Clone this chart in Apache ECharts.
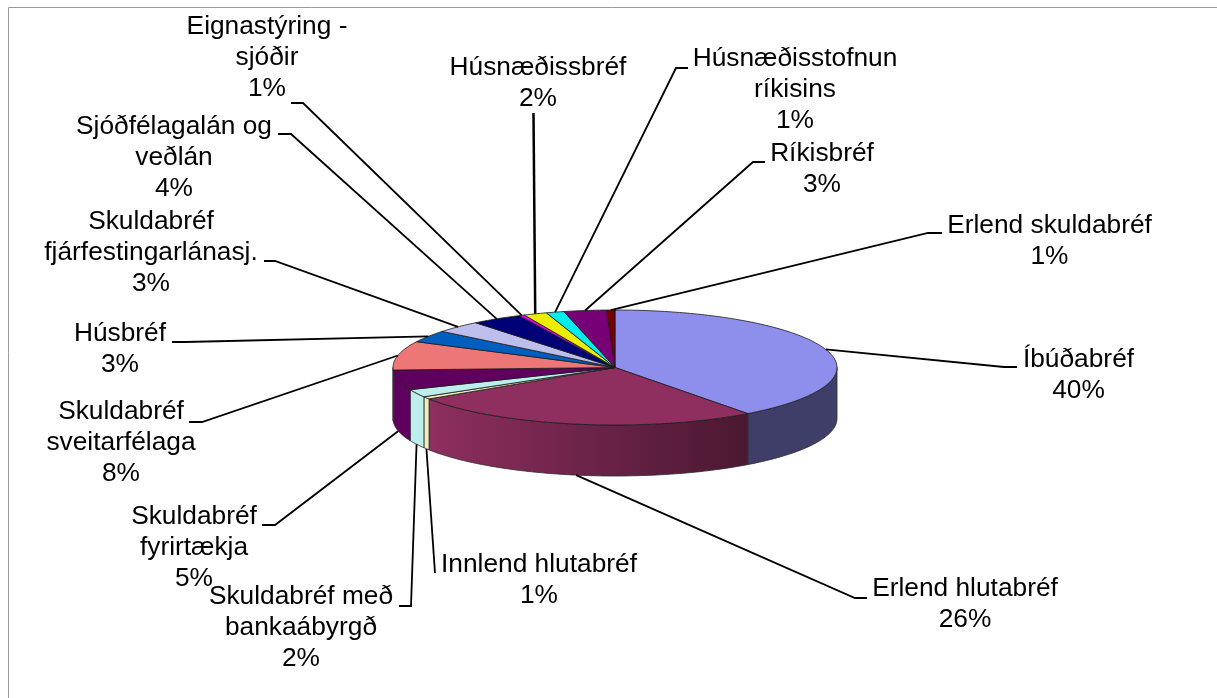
<!DOCTYPE html>
<html><head><meta charset="utf-8">
<style>html,body{margin:0;padding:0;background:#fff}#c{width:1217px;height:698px}</style>
<script src="https://cdn.jsdelivr.net/npm/echarts@6/dist/echarts.min.js"></script>
</head><body><div id="c"></div>
<script>
const categories = ['Íbúðabréf','Erlend hlutabréf','Innlend hlutabréf','Skuldabréf með\nbankaábyrgð','Skuldabréf\nfyrirtækja','Skuldabréf\nsveitarfélaga','Húsbréf','Skuldabréf\nfjárfestingarlánasj.','Sjóðfélagalán og\nveðlán','Eignastýring -\nsjóðir','Húsnæðissbréf','Húsnæðisstofnun\nríkisins','Ríkisbréf','Erlend skuldabréf'];
const values = [39.8,26.0,0.7,2.2,5.6,8.1,3.4,3.4,3.7,0.4,1.7,1.3,3.1,0.6];
const percentLabels = ['40%','26%','1%','2%','5%','8%','3%','3%','4%','1%','2%','1%','3%','1%'];
const colors = ['#8E8EED','#8E2F5F','#EDEDBE','#BEEDED','#5F005F','#ED7777','#005FBE','#BEBEED','#000077','#ED00ED','#EDED00','#00EDED','#770077','#770000'];
// label block centres
const labelCentres = [[1078.5,375],[965,604],[539,580],[301,628],[194,548],[121,443],[120,349],[151,253],[174,158],[267,58],[538,83],[795,90],[822,169],[1049.5,241]];
// leader: end next to the label, then elbow
const leaderEnds = [[1017,367],[867,598],[435,573],[399,606],[262,525],[189,422],[172,342],[264,261],[278,134],[291,103],[533.5,113],[688,68],[765,162],[942,233]];
const leaderElbows = [[1004,367],[855,598],null,[411,606],[275,525],[202,422],[185,342],[275,261],[291,134],[303,103],null,[676,68],[753,162],[928,233]];

const CX = 615, CY = 367.5, RX = 222, RY = 57.5, DEPTH = 51;
const total = values.reduce((a,b)=>a+b,0);
const starts = []; { let s = 0; values.forEach(v=>{ starts.push(s); s += v; }); }
const toDeg = v => v/total*360;
const rim = (deg, dz) => { const r = deg*Math.PI/180; return [CX+RX*Math.sin(r), CY-RY*Math.cos(r)+(dz||0)]; };
function arc(a0,a1,dz){ const n=Math.max(2,Math.ceil(Math.abs(a1-a0))), p=[]; for(let i=0;i<=n;i++) p.push(rim(a0+(a1-a0)*i/n,dz)); return p; }
function shadeHex(hex,f){ const n=parseInt(hex.slice(1),16); const c=[n>>16,(n>>8)&255,n&255].map(v=>Math.round(v*f)); return `rgb(${c.join(',')})`; }
function wallFactor(x){ if(x<430) return 1; return 1-(x-430)/(748-430)*0.48; }

function renderItem(params, api){
  const i = params.dataIndex;
  const a0 = toDeg(starts[i]), a1 = toDeg(starts[i]+values[i]), mid=(a0+a1)/2;
  const children = [];
  const w0 = Math.max(a0,90), w1 = Math.min(a1,270);
  if (w1 > w0) {
    const top = arc(w0,w1,0), bot = arc(w1,w0,DEPTH);
    const loX = top.concat(bot).reduce((m,p)=>Math.min(m,p[0]),1e9), hiX = top.concat(bot).reduce((m,p)=>Math.max(m,p[0]),-1e9);
    const fl = loX>700 ? 0.44 : wallFactor(loX), fh = loX>700 ? 0.44 : wallFactor(hiX);
    children.push({type:'polygon',shape:{points:top.concat(bot)},style:{
      fill:new echarts.graphic.LinearGradient(0,0,1,0,[{offset:0,color:shadeHex(colors[i],fl)},{offset:1,color:shadeHex(colors[i],fh)}]),
      stroke:'#2a2a2a',lineWidth:0.8,lineJoin:'round'}});
  }
  children.push({type:'polygon',shape:{points:[[CX,CY]].concat(arc(a0,a1,0))},style:{fill:colors[i],stroke:'#1a1a1a',lineWidth:0.8,lineJoin:'round'}});
  const front = mid>90 && mid<270;
  const pts = [leaderEnds[i]];
  if (leaderElbows[i]) pts.push(leaderElbows[i]);
  pts.push(rim(mid, front?DEPTH:0));
  children.push({type:'polyline',shape:{points:pts},style:{stroke:'#000',lineWidth:categories[i]==='Húsnæðissbréf'?2.5:1.8,fill:null,lineJoin:'miter'},z2:5});
  children.push({type:'text',x:labelCentres[i][0],y:labelCentres[i][1],z2:6,style:{
    text:categories[i]+'\n'+percentLabels[i],align:'center',verticalAlign:'middle',
    font:'26.3px "Liberation Sans", Arial, sans-serif',lineHeight:31,fill:'#000'}});
  return {type:'group',children};
}

const chart = echarts.init(document.getElementById('c'),null,{renderer:'canvas'});
chart.setOption({
  animation:false,
  backgroundColor:'#fff',
  graphic:[{type:'polyline',shape:{points:[[8.5,698],[8.5,7.5],[1217,7.5]]},style:{stroke:'#9a9a9a',lineWidth:1,fill:null},silent:true}],
  series:[{type:'custom',coordinateSystem:'none',renderItem,silent:true,clip:false,
    data:values.map((v,i)=>({name:categories[i],value:v}))}]
});
</script></body></html>
